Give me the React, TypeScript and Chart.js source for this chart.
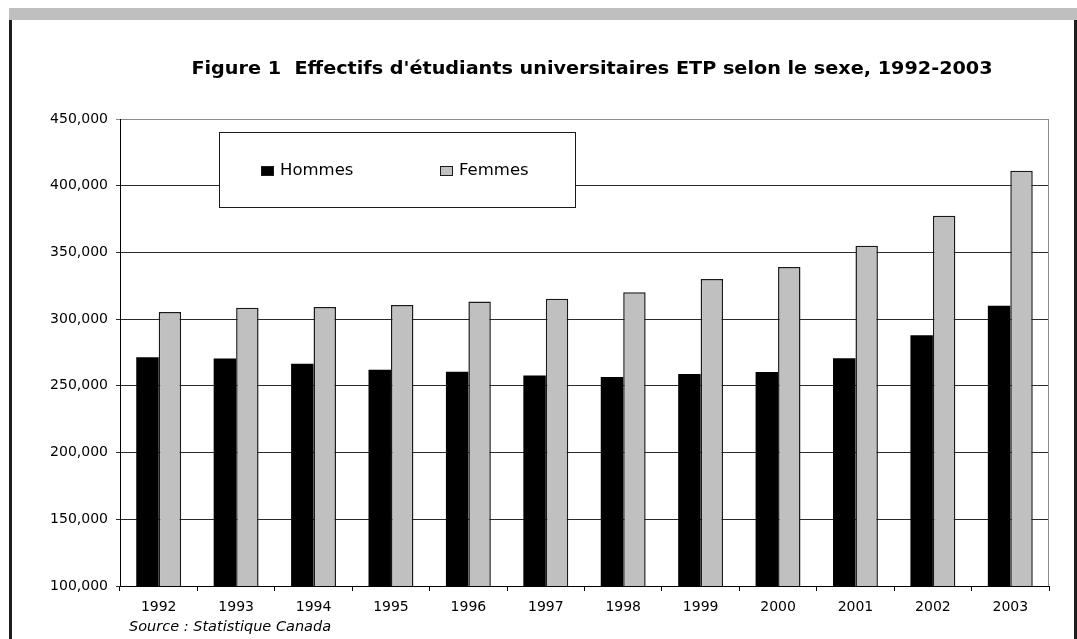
import React, { useEffect, useRef } from "react";
import { Chart, registerables } from "chart.js";

Chart.register(...registerables);

// ---- Data ----
const categories = ["1992", "1993", "1994", "1995", "1996", "1997", "1998", "1999", "2000", "2001", "2002", "2003"];
const hommes = [271500, 270500, 266500, 262000, 260500, 257700, 256700, 258800, 260300, 270700, 287900, 310100];
const femmes = [305400, 308600, 309100, 310600, 313200, 315200, 320200, 330000, 339000, 355000, 377500, 411300];
const seriesLabels = ["Hommes", "Femmes"];
const yMin = 100000;
const yMax = 450000;
const yStep = 50000;
const titleText = "Figure 1  Effectifs d'étudiants universitaires ETP selon le sexe, 1992-2003";
const sourceText = "Source : Statistique Canada";

const FONT = "'DejaVu Sans', 'Liberation Sans', Arial, sans-serif";

const boxLegend = {
  id: "boxLegend",
  afterDraw(chart: any) {
    const { ctx, chartArea } = chart;
    const x = Math.round(chartArea.left + 99);
    const y = Math.round(chartArea.top + 13);
    const w = 356;
    const h = 75;
    ctx.save();
    ctx.fillStyle = "#ffffff";
    ctx.fillRect(x, y, w, h);
    ctx.strokeStyle = "#1a1a1a";
    ctx.lineWidth = 1;
    ctx.strokeRect(x + 0.5, y + 0.5, w, h);
    const offsets = [42, 221];
    ctx.font = `16.5px ${FONT}`;
    ctx.textBaseline = "middle";
    ctx.textAlign = "left";
    chart.data.datasets.forEach((ds: any, i: number) => {
      const sx = x + offsets[i];
      const sy = y + 34;
      ctx.fillStyle = ds.backgroundColor;
      ctx.fillRect(sx, sy, 13, 10);
      ctx.strokeStyle = "#1a1a1a";
      ctx.strokeRect(sx + 0.5, sy + 0.5, 12, 9);
      ctx.fillStyle = "#000000";
      ctx.fillText(ds.label, sx + 19, y + 39);
    });
    ctx.restore();
  },
};

const rightFrame = {
  id: "rightFrame",
  beforeDatasetsDraw(chart: any) {
    const { ctx, chartArea } = chart;
    ctx.save();
    ctx.strokeStyle = "#8c8c8c";
    ctx.lineWidth = 1;
    const xr = Math.round(chartArea.right) - 0.5;
    const yt = Math.round(chartArea.top) + 0.5;
    ctx.beginPath();
    ctx.moveTo(chartArea.left + 1, yt);
    ctx.lineTo(xr, yt);
    ctx.lineTo(xr, chartArea.bottom);
    ctx.stroke();
    ctx.restore();
  },
};

export default function App() {
  const canvasRef = useRef<HTMLCanvasElement | null>(null);

  useEffect(() => {
    if (!canvasRef.current) return;
    const chart = new Chart(canvasRef.current, {
      type: "bar",
      data: {
        labels: categories,
        datasets: [
          {
            label: seriesLabels[0],
            data: hommes,
            backgroundColor: "#000000",
            borderColor: "#000000",
            borderWidth: 0,
            categoryPercentage: 0.58,
            barPercentage: 1.0,
          },
          {
            label: seriesLabels[1],
            data: femmes,
            backgroundColor: "#c0c0c0",
            borderColor: "#1a1a1a",
            borderWidth: 1.5,
            categoryPercentage: 0.58,
            barPercentage: 1.0,
          },
        ],
      },
      options: {
        animation: false,
        responsive: false,
        devicePixelRatio: 1,
        layout: { padding: { left: 0, top: 119, right: 28, bottom: 0 } },
        plugins: {
          legend: { display: false },
          tooltip: { enabled: false },
          title: { display: false },
        },
        scales: {
          x: {
            offset: true,
            grid: {
              display: true,
              drawOnChartArea: false,
              drawTicks: true,
              tickLength: 5,
              color: "#000000",
              offset: true,
            },
            border: { color: "#000000", width: 1 },
            ticks: {
              color: "#000000",
              font: { family: FONT, size: 14 },
              padding: 8,
              maxRotation: 0,
            },
            afterFit(scale: any) {
              scale.height = 53;
            },
          },
          y: {
            min: yMin,
            max: yMax,
            grid: {
              color: (c: any) => (c.tick && c.tick.value === yMax ? "#8c8c8c" : "#2b2b2b"),
              tickLength: 4,
              drawTicks: true,
            },
            border: { color: "#000000", width: 1 },
            ticks: {
              stepSize: yStep,
              color: "#000000",
              font: { family: FONT, size: 14 },
              padding: 8,
              callback: (v: any) => Number(v).toLocaleString("en-US"),
            },
            afterFit(scale: any) {
              scale.width = 120;
            },
          },
        },
      },
      plugins: [rightFrame, boxLegend],
    });
    return () => chart.destroy();
  }, []);

  return (
    <div
      style={{
        position: "fixed",
        left: 0,
        top: 0,
        width: 1077,
        height: 639,
        background: "#ffffff",
        overflow: "hidden",
      }}
    >
      <canvas
        ref={canvasRef}
        width={1077}
        height={639}
        style={{ position: "absolute", left: 0, top: 0, display: "block" }}
      />
      <div style={{ position: "absolute", left: 9, top: 8, width: 1068, height: 12, background: "#bfbfbf" }} />
      <div style={{ position: "absolute", left: 9, top: 20, width: 3, height: 619, background: "#1f1f1f" }} />
      <div style={{ position: "absolute", left: 1074, top: 20, width: 3, height: 619, background: "#1f1f1f" }} />
      <div
        style={{
          position: "absolute",
          left: 0,
          top: 58,
          width: 1184,
          textAlign: "center",
          whiteSpace: "pre",
          fontFamily: FONT,
          fontWeight: "bold",
          fontSize: 17,
          lineHeight: "20px",
          color: "#000",
          transform: "scaleX(1.13)",
          transformOrigin: "50% 0",
        }}
      >
        {titleText}
      </div>
      <div
        style={{
          position: "absolute",
          left: 129,
          top: 618,
          whiteSpace: "nowrap",
          fontFamily: FONT,
          fontStyle: "italic",
          fontSize: 14.5,
          lineHeight: "17px",
          color: "#000",
        }}
      >
        {sourceText}
      </div>
    </div>
  );
}
